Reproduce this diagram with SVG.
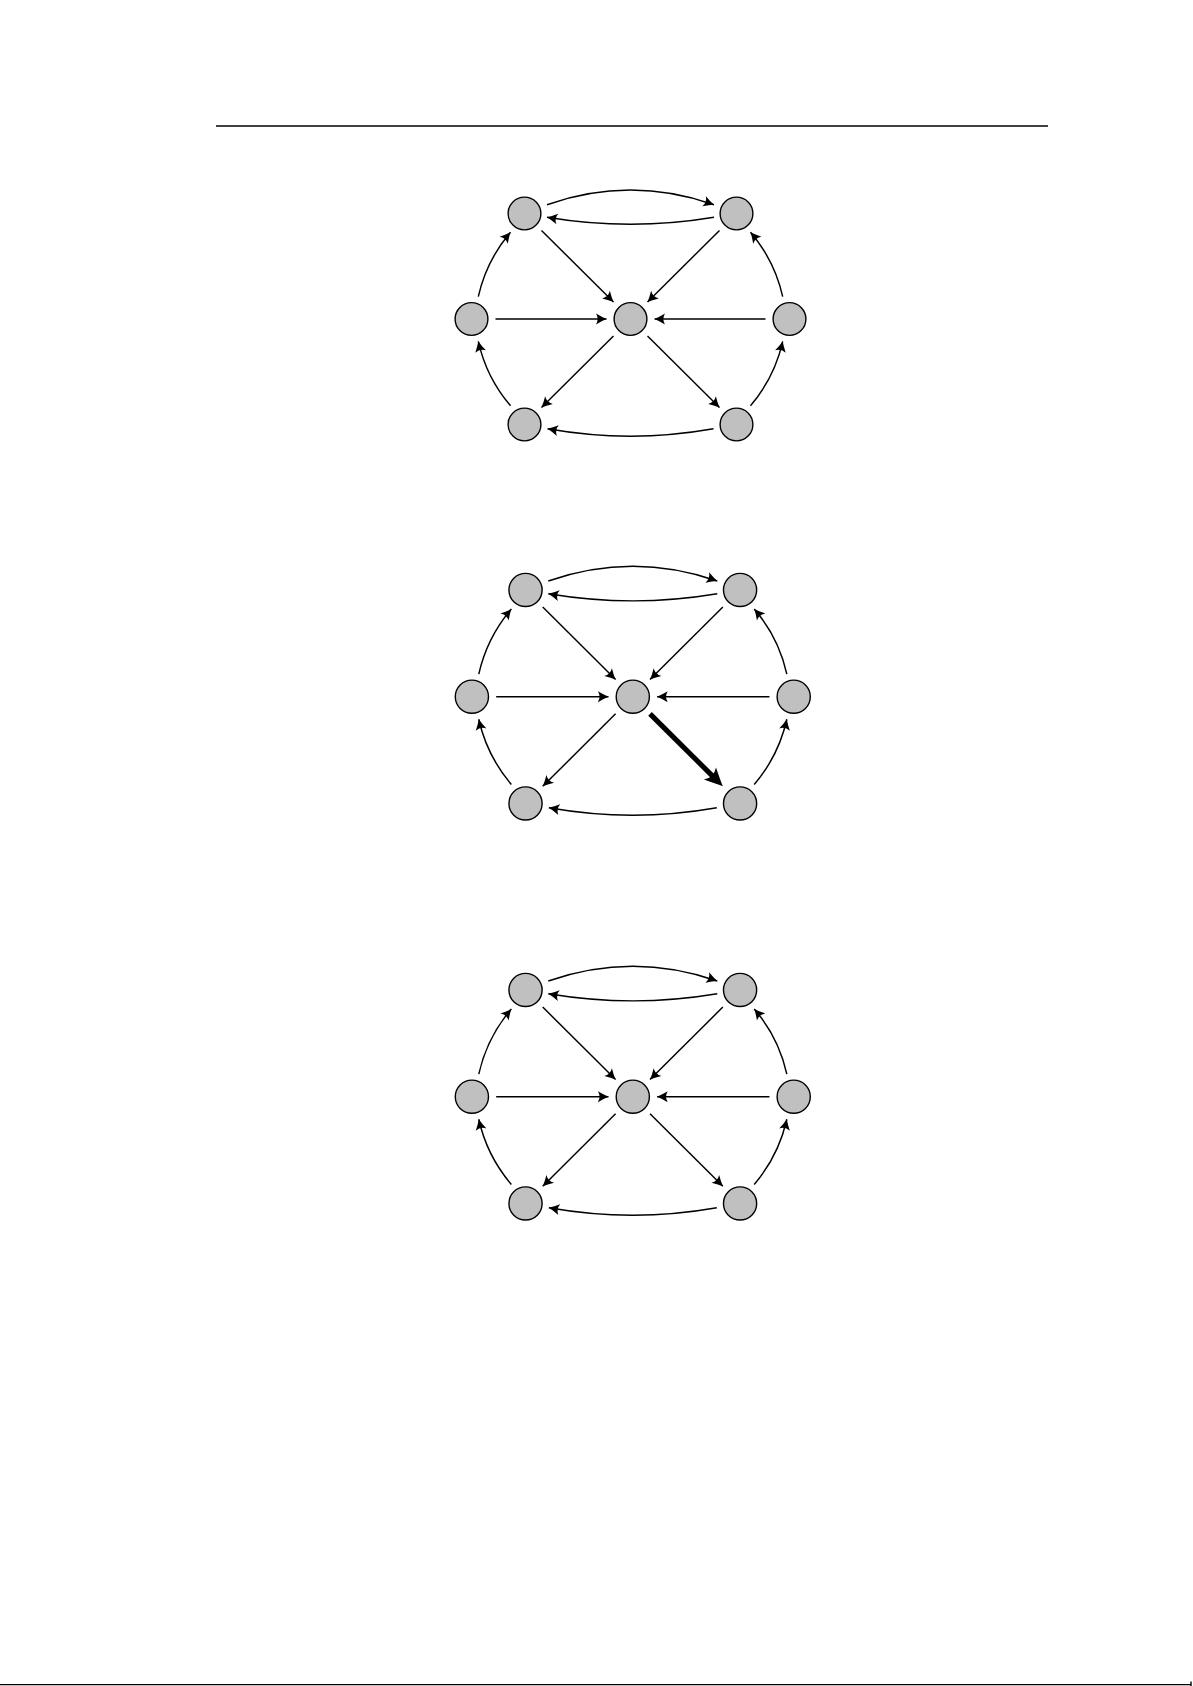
<svg xmlns="http://www.w3.org/2000/svg" width="1193" height="1686" viewBox="0 0 1193 1686">
  <style>
    .node { fill: #c0c0c0; stroke: #000; stroke-width: 1.4; }
    .edge { fill: none; stroke: #000; stroke-width: 1.45; marker-end: url(#ah); }
    .thick { fill: none; stroke: #000; stroke-width: 5; marker-end: url(#ahBig); }
    .rule { stroke: #000; stroke-width: 1.4; fill: none; }
  </style>
  <defs>
    <marker id="ah" viewBox="-12 -6 12 12" refX="0" refY="0" markerWidth="12" markerHeight="12" markerUnits="userSpaceOnUse" orient="auto">
      <path d="M0,0 Q-4.5,-1.8 -10.5,-5.4 Q-7.2,0 -10.5,5.4 Q-4.5,1.8 0,0 Z" fill="#000"/>
    </marker>
    <marker id="ahBig" viewBox="-20 -10 20 20" refX="-9" refY="0" markerWidth="20" markerHeight="20" markerUnits="userSpaceOnUse" orient="auto">
      <path d="M0,0 Q-7,-3 -18,-8.5 Q-12.5,0 -18,8.5 Q-7,3 0,0 Z" fill="#000"/>
    </marker>
  </defs>
  <rect width="1193" height="1686" fill="#fff"/>

  <g id="rules">
    <line class="rule" x1="216" y1="126" x2="1048" y2="126"/>
    <line class="rule" x1="0" y1="1684.6" x2="1191" y2="1684.6" stroke-width="1.6"/>
    <line class="rule" x1="1191" y1="1681.5" x2="1191" y2="1686"/>
  </g>

  <!-- Diagram 1 -->
  <g id="diagram1" transform="translate(630.5,319)">
    <g id="d1-connectors">
      <path class="edge" d="M-83.5,-114.3 Q0,-143.5 83.5,-114.3"/>
      <path class="edge" d="M83.5,-101.7 Q0,-87.7 -83.5,-101.7"/>
      <path class="edge" d="M83,109.8 Q0,124.5 -83,109.8"/>
      <path class="edge" d="M-152.2,-22.3 Q-144.1,-58.5 -120,-86.7"/>
      <path class="edge" d="M-120,86.7 Q-144.1,58.5 -152.2,22.3"/>
      <path class="edge" d="M152.2,-22.3 Q144.1,-58.5 120,-86.7"/>
      <path class="edge" d="M120,86.7 Q144.1,58.5 152.2,22.3"/>
      <path class="edge" d="M-88.99,-88.57 L-17.01,-16.93"/>
      <path class="edge" d="M88.99,-88.57 L17.01,-16.93"/>
      <path class="edge" d="M-135,0 L-24,0"/>
      <path class="edge" d="M135,0 L24,0"/>
      <path class="edge" d="M-17.01,16.93 L-88.99,88.57"/>
      <path class="edge" d="M17.01,16.93 L88.99,88.57"/>
    </g>
    <g id="d1-C"><circle class="node" cx="0" cy="0" r="16.4"/></g>
    <g id="d1-L"><circle class="node" cx="-159" cy="0" r="16.4"/></g>
    <g id="d1-R"><circle class="node" cx="159" cy="0" r="16.4"/></g>
    <g id="d1-TL"><circle class="node" cx="-106" cy="-105.5" r="16.4"/></g>
    <g id="d1-TR"><circle class="node" cx="106" cy="-105.5" r="16.4"/></g>
    <g id="d1-BL"><circle class="node" cx="-106" cy="105.5" r="16.4"/></g>
    <g id="d1-BR"><circle class="node" cx="106" cy="105.5" r="16.4"/></g>
  </g>

  <!-- Diagram 2 -->
  <g id="diagram2" transform="translate(632.8,696.7) scale(1.012)">
    <g id="d2-connectors">
      <path class="edge" d="M-83.5,-114.3 Q0,-143.5 83.5,-114.3"/>
      <path class="edge" d="M83.5,-101.7 Q0,-87.7 -83.5,-101.7"/>
      <path class="edge" d="M83,109.8 Q0,124.5 -83,109.8"/>
      <path class="edge" d="M-152.2,-22.3 Q-144.1,-58.5 -120,-86.7"/>
      <path class="edge" d="M-120,86.7 Q-144.1,58.5 -152.2,22.3"/>
      <path class="edge" d="M152.2,-22.3 Q144.1,-58.5 120,-86.7"/>
      <path class="edge" d="M120,86.7 Q144.1,58.5 152.2,22.3"/>
      <path class="edge" d="M-88.99,-88.57 L-17.01,-16.93"/>
      <path class="edge" d="M88.99,-88.57 L17.01,-16.93"/>
      <path class="edge" d="M-135,0 L-24,0"/>
      <path class="edge" d="M135,0 L24,0"/>
      <path class="edge" d="M-17.01,16.93 L-88.99,88.57"/>
      <path class="thick" d="M17.01,16.93 L82.61,82.22"/>
    </g>
    <g id="d2-C"><circle class="node" cx="0" cy="0" r="16.4"/></g>
    <g id="d2-L"><circle class="node" cx="-159" cy="0" r="16.4"/></g>
    <g id="d2-R"><circle class="node" cx="159" cy="0" r="16.4"/></g>
    <g id="d2-TL"><circle class="node" cx="-106" cy="-105.5" r="16.4"/></g>
    <g id="d2-TR"><circle class="node" cx="106" cy="-105.5" r="16.4"/></g>
    <g id="d2-BL"><circle class="node" cx="-106" cy="105.5" r="16.4"/></g>
    <g id="d2-BR"><circle class="node" cx="106" cy="105.5" r="16.4"/></g>
  </g>

  <!-- Diagram 3 -->
  <g id="diagram3" transform="translate(632.8,1096.7) scale(1.012)">
    <g id="d3-connectors">
      <path class="edge" d="M-83.5,-114.3 Q0,-143.5 83.5,-114.3"/>
      <path class="edge" d="M83.5,-101.7 Q0,-87.7 -83.5,-101.7"/>
      <path class="edge" d="M83,109.8 Q0,124.5 -83,109.8"/>
      <path class="edge" d="M-152.2,-22.3 Q-144.1,-58.5 -120,-86.7"/>
      <path class="edge" d="M-120,86.7 Q-144.1,58.5 -152.2,22.3"/>
      <path class="edge" d="M152.2,-22.3 Q144.1,-58.5 120,-86.7"/>
      <path class="edge" d="M120,86.7 Q144.1,58.5 152.2,22.3"/>
      <path class="edge" d="M-88.99,-88.57 L-17.01,-16.93"/>
      <path class="edge" d="M88.99,-88.57 L17.01,-16.93"/>
      <path class="edge" d="M-135,0 L-24,0"/>
      <path class="edge" d="M135,0 L24,0"/>
      <path class="edge" d="M-17.01,16.93 L-88.99,88.57"/>
      <path class="edge" d="M17.01,16.93 L88.99,88.57"/>
    </g>
    <g id="d3-C"><circle class="node" cx="0" cy="0" r="16.4"/></g>
    <g id="d3-L"><circle class="node" cx="-159" cy="0" r="16.4"/></g>
    <g id="d3-R"><circle class="node" cx="159" cy="0" r="16.4"/></g>
    <g id="d3-TL"><circle class="node" cx="-106" cy="-105.5" r="16.4"/></g>
    <g id="d3-TR"><circle class="node" cx="106" cy="-105.5" r="16.4"/></g>
    <g id="d3-BL"><circle class="node" cx="-106" cy="105.5" r="16.4"/></g>
    <g id="d3-BR"><circle class="node" cx="106" cy="105.5" r="16.4"/></g>
  </g>
</svg>
